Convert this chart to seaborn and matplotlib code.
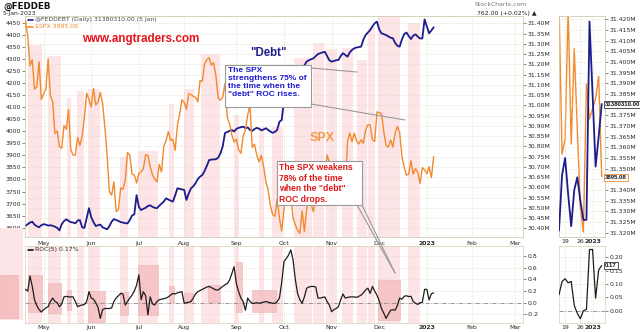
import numpy as np
import pandas as pd
import matplotlib
matplotlib.use("Agg")
import matplotlib.pyplot as plt
from matplotlib.patches import Rectangle
from matplotlib.lines import Line2D
from matplotlib.ticker import FuncFormatter
import seaborn as sns

sns.set_theme(style="white")
plt.rcParams["font.family"] = ["DejaVu Sans"]

# ---------------------------------------------------------------- data
HOLIDAYS = ["2022-05-30", "2022-06-20", "2022-07-04", "2022-09-05", "2022-11-24",
            "2022-12-26", "2023-01-02", "2023-01-16", "2023-02-20"]

# S&P 500 daily close, 20-Apr-2022 .. 6-Jan-2023
spx = [4459, 4394, 4272, 4296, 4175, 4184, 4288, 4132,
       4155, 4175, 4300, 4147, 4123, 3991, 4001, 3935, 3930, 4024, 4008, 4089,
       3924, 3901, 3901, 3974, 3941, 3979, 4058, 4158, 4132,
       4101, 4177, 4109, 4121, 4161, 4116, 4018, 3901, 3750, 3735, 3790, 3667,
       3675, 3765, 3760, 3796, 3912, 3900, 3822, 3819, 3785,
       3825, 3831, 3845, 3903, 3899, 3854, 3819, 3802, 3790, 3863, 3831, 3937,
       3960, 3999, 3962, 3967, 3921, 4024, 4072, 4130,
       4119, 4091, 4155, 4152, 4145, 4140, 4122, 4210, 4207, 4280, 4297, 4305,
       4274, 4284, 4228, 4138, 4129, 4141, 4199, 4058, 4031, 3986, 3955,
       3967, 3924, 3908, 3980, 4006, 4067, 4110, 3933, 3946, 3901, 3873, 3900,
       3856, 3790, 3758, 3693, 3655, 3647, 3719, 3640, 3586,
       3678, 3791, 3783, 3745, 3640, 3612, 3589, 3577, 3670, 3583, 3678, 3720,
       3695, 3666, 3753, 3797, 3859, 3831, 3807, 3901, 3872,
       3856, 3760, 3720, 3771, 3807, 3828, 3749, 3956, 3993, 3957, 3992, 3959,
       3947, 3965, 3950, 4004, 4027, 4026, 3964, 3958, 4080,
       4077, 4072, 3999, 3941, 3934, 3964, 3934, 3991, 4020, 3995, 3896, 3852,
       3818, 3822, 3878, 3822, 3845, 3829, 3783, 3849, 3840,
       3824, 3853, 3808, 3895.08]

# Federal debt, millions (shown as M on the axis)
debt = [30.411, 30.420, 30.428, 30.432, 30.418, 30.410, 30.405, 30.415, 30.420, 30.418,
        30.413, 30.415, 30.412, 30.408, 30.402, 30.390, 30.420, 30.435, 30.444, 30.436,
        30.430, 30.428, 30.424, 30.438, 30.440, 30.405, 30.402, 30.450, 30.498, 30.455,
        30.430, 30.411, 30.415, 30.418, 30.405, 30.400, 30.395, 30.410, 30.432, 30.445,
        30.440, 30.436, 30.430, 30.428, 30.425, 30.424, 30.440, 30.462, 30.468, 30.562,
        30.505, 30.489, 30.495, 30.500, 30.509, 30.512, 30.505, 30.500, 30.498, 30.510,
        30.520, 30.530, 30.546, 30.540, 30.535, 30.530, 30.560, 30.595, 30.592, 30.590,
        30.587, 30.538, 30.570, 30.595, 30.605, 30.620, 30.640, 30.652, 30.660, 30.680,
        30.705, 30.733, 30.735, 30.736, 30.737, 30.745, 30.766, 30.800, 30.865, 30.870,
        30.875, 30.880, 30.872, 30.885, 30.890, 30.893, 30.896, 30.888, 30.892, 30.880,
        30.875, 30.884, 30.890, 30.886, 30.878, 30.882, 30.888, 30.880, 30.872, 30.866,
        30.870, 30.880, 30.920, 30.928, 31.026, 31.060, 31.090, 31.110, 31.130, 31.140,
        31.150, 31.165, 31.180, 31.195, 31.213, 31.220, 31.225, 31.229, 31.240, 31.250,
        31.254, 31.258, 31.261, 31.240, 31.220, 31.213, 31.216, 31.220, 31.221, 31.240,
        31.254, 31.246, 31.237, 31.258, 31.270, 31.278, 31.282, 31.284, 31.286, 31.320,
        31.343, 31.355, 31.367, 31.385, 31.400, 31.408, 31.370, 31.351, 31.347, 31.343,
        31.336, 31.330, 31.327, 31.305, 31.290, 31.286, 31.321, 31.347, 31.355, 31.338,
        31.323, 31.340, 31.346, 31.335, 31.326, 31.326, 31.419, 31.385, 31.351, 31.365,
        31.38031]

# ROC(5) of the debt series, percent
roc = [0.23, 0.20, 0.46, 0.28, 0.05, -0.05, -0.12, -0.16, -0.12, -0.09,
       -0.07, 0.02, 0.08, 0.02, 0.00, -0.07, -0.02, 0.10, 0.11, 0.10,
       0.10, 0.10, 0.02, -0.07, -0.05, -0.04, -0.03, 0.02, 0.19, 0.08,
       0.06, 0.00, -0.08, -0.27, -0.12, -0.10, -0.10, -0.10, -0.09, 0.02,
       0.08, 0.12, 0.16, 0.15, -0.04, 0.02, 0.08, 0.13, 0.20, 0.30,
       0.48, 0.05, 0.19, 0.12, -0.21, 0.10, -0.02, -0.04, 0.02, 0.05,
       0.06, 0.07, 0.08, 0.10, 0.13, 0.16, 0.15, 0.17, 0.18, 0.19,
       -0.01, 0.00, 0.01, 0.02, 0.08, 0.15, 0.19, 0.21, 0.23, 0.25,
       0.27, 0.28, 0.26, 0.24, 0.22, 0.22, 0.25, 0.28, 0.31, 0.33,
       0.39, 0.50, 0.62, 0.33, 0.19, 0.08, 0.02, -0.13, 0.08, 0.02,
       -0.01, -0.01, 0.00, -0.01, 0.00, 0.01, 0.02, 0.01, 0.00, -0.01,
       -0.01, 0.02, 0.08, 0.35, 0.71, 0.76, 0.82, 0.91, 0.74, 0.40,
       0.16, 0.05, -0.01, 0.10, 0.25, 0.27, 0.28, 0.28, 0.27, 0.08,
       0.08, 0.09, 0.10, 0.02, -0.04, -0.155, -0.12, -0.10, -0.07, 0.05,
       0.15, 0.08, 0.09, 0.10, 0.10, 0.10, 0.09, 0.11, 0.13, 0.17,
       0.22, 0.25, 0.16, 0.28, 0.20, 0.13, 0.03, -0.10, -0.18, -0.27,
       -0.20, -0.13, -0.12, -0.13, -0.05, 0.08, 0.06, 0.11, 0.12, 0.105,
       0.11, 0.02, -0.01, -0.03, 0.00, 0.005, 0.23, 0.23, 0.047, 0.153,
       0.17]

# $SPX trace of the 15-session zoom panel (own hidden scale)
zoom_spx = [4240, 3940, 3970, 4230, 3960, 4150, 3990, 3830, 3785, 4080,
            4010, 4030, 4050, 4095, 3895.08]

zoom_labels = {"2022-12-19": "19", "2022-12-27": "26", "2023-01-03": "2023"}

# shaded periods: (first session, last session, top of shading in the price pane)
highlights = [(1.1, 7.3, 0.87), (9.9, 15.6, 0.82), (18.3, 20.0, 0.63), (22.7, 25.7, 0.66),
              (27.5, 32.8, 0.67), (41.6, 45.1, 0.36), (49.5, 58.3, 0.39), (63.2, 65.4, 0.60),
              (69.8, 74.2, 0.67), (77.2, 86.0, 0.83), (91.8, 94.0, 0.55), (102.8, 105.0, 0.5),
              (108.9, 113.4, 0.5), (118.2, 126.5, 0.81), (127.0, 131.8, 0.88),
              (132.7, 137.5, 0.85), (139.7, 144.6, 0.855), (146.4, 150.5, 0.8),
              (151.2, 154.3, 0.95), (155.6, 165.3, 1.0), (168.8, 174.1, 0.97)]
# darker boxes in the ROC pane: (x0, x1, low, high)
roc_boxes = [(1.1, 7.3, -0.16, 0.48), (9.9, 15.6, -0.18, 0.34), (18.3, 20.0, -0.13, 0.22),
             (27.5, 35.0, -0.33, 0.20), (41.6, 45.1, -0.21, 0.18), (49.5, 58.3, -0.21, 0.65),
             (63.2, 65.4, 0.01, 0.29), (69.8, 73.7, -0.01, 0.17), (80.3, 86.0, 0.01, 0.30),
             (92.7, 95.7, -0.16, 0.70), (100.1, 110.3, -0.16, 0.22), (155.6, 165.3, -0.30, 0.39)]

# ---------------------------------------------------------------- frame
sessions = pd.bdate_range("2022-04-20", "2023-03-10")
sessions = sessions[~sessions.isin(pd.to_datetime(HOLIDAYS))]
n = len(spx)
df = pd.DataFrame({"session": np.arange(n), "spx": spx, "debt": debt, "roc": roc})
tail = df.tail(len(zoom_spx)).reset_index(drop=True)
tail["pos"] = np.arange(len(tail))
tail["spx_zoom"] = zoom_spx
tail_dates = sessions[n - len(tail):n]

months = pd.Series(sessions.month)
starts = np.flatnonzero(months.ne(months.shift()).to_numpy())[1:]
mlabels = ["2023" if sessions[i].month == 1 else sessions[i].strftime("%b") for i in starts]

ORANGE = "#f2892c"
NAVY = "#1c1c8c"
BAND = "#fde4e7"
BAND_DARK = "#f5c0c2"
GRID = "#dedec6"
TXT = "#2a2a2a"
FS = 4.4

W, H = 640, 332
fig = plt.figure(figsize=(6.4, 3.32), dpi=100)
fig.patch.set_facecolor("white")


def frame(x0, y0, x1, y1):
    return [x0 / W, 1 - y1 / H, (x1 - x0) / W, (y1 - y0) / H]


def fx(x):
    return x / W


def fy(y):
    return 1 - y / H


ax_debt = fig.add_axes(frame(25, 16, 523, 237))
ax_spx = ax_debt.twinx()
ax_roc = fig.add_axes(frame(25, 246, 523, 323))
ax_z = fig.add_axes(frame(559, 16, 605, 237))
ax_zs = ax_z.twinx()
ax_zr = fig.add_axes(frame(559, 246, 605, 323))


def style(ax):
    ax.set_facecolor("none")
    for s in ax.spines.values():
        s.set_linestyle((0, (1, 1.5)))
        s.set_color("#cfcfb4")
        s.set_linewidth(0.6)
    ax.tick_params(labelsize=FS, colors=TXT, length=2, width=0.4, pad=1)
    ax.set_xlabel("")
    ax.set_ylabel("")


# ---------------------------------------------------------------- price pane
for x0, x1, top in highlights:
    ax_debt.axvspan(x0, x1, ymin=0, ymax=top, color=BAND, lw=0, zorder=0.5)
    ax_roc.axvspan(x0, x1, color=BAND, lw=0, zorder=0.5)
for x0, x1, lo, hi in roc_boxes:
    ax_roc.add_patch(Rectangle((x0, lo), x1 - x0, hi - lo, fc=BAND_DARK, ec="#eeaaaa",
                               lw=0.4, alpha=0.85, zorder=0.6))

sns.lineplot(data=df, x="session", y="debt", ax=ax_debt, color=NAVY, lw=1.3, zorder=3)
sns.lineplot(data=df, x="session", y="spx", ax=ax_spx, color=ORANGE, lw=1.0, zorder=3)

xlim = (-0.2, 219.4)
ax_debt.set_xlim(xlim)
ax_debt.set_ylim(30.3575, 31.4356)
ax_spx.set_ylim(3561.4, 4477.8)
ax_debt.yaxis.tick_right()
ax_spx.yaxis.tick_left()
ax_debt.set_yticks(np.round(np.arange(30.40, 31.401, 0.05), 2))
ax_debt.yaxis.set_major_formatter(FuncFormatter(lambda v, p: f"{v:.2f}M"))
ax_spx.set_yticks(np.arange(3600, 4451, 50))
ax_debt.set_xticks(starts, mlabels)
ax_debt.tick_params(axis="x", length=0, pad=1.2)
for a in (ax_debt, ax_spx):
    style(a)
ax_debt.grid(True, ls=(0, (1, 1.5)), color=GRID, lw=0.6)

# ---------------------------------------------------------------- ROC pane
sns.lineplot(data=df, x="session", y="roc", ax=ax_roc, color="#1e1e1e", lw=0.9, zorder=3)
ax_roc.set_xlim(xlim)
ax_roc.set_ylim(-0.35, 0.977)
ax_roc.yaxis.tick_right()
ax_roc.set_yticks([-0.2, 0.0, 0.2, 0.4, 0.6, 0.8])
ax_roc.yaxis.set_major_formatter(FuncFormatter(lambda v, p: f"{v:.1f}"))
ax_roc.set_xticks(starts, mlabels)
style(ax_roc)
ax_roc.tick_params(axis="x", length=0, pad=1.2)
ax_roc.grid(True, ls=(0, (1, 1.5)), color=GRID, lw=0.6)
ax_roc.axhline(0, color="#8a8a8a", lw=0.6, ls=(0, (5, 2, 1, 2)), zorder=2)

# ---------------------------------------------------------------- zoom panes
zt_pos = [int(np.flatnonzero(tail_dates == pd.Timestamp(d))[0]) for d in zoom_labels]
zt_lab = list(zoom_labels.values())

sns.lineplot(data=tail, x="pos", y="spx_zoom", ax=ax_zs, color=ORANGE, lw=1.0, zorder=3)
sns.lineplot(data=tail, x="pos", y="debt", ax=ax_z, color=NAVY, lw=1.3, zorder=4)
ax_z.set_zorder(ax_zs.get_zorder() + 1)
ax_z.set_xlim(0, 15.08)
ax_z.set_ylim(31.31798, 31.42155)
ax_zs.set_ylim(3775, 4215)
ax_zs.set_yticks([])
ax_z.yaxis.tick_right()
zticks = np.round(np.arange(31.320, 31.4201, 0.005), 3)
# the last-value tags sit over these two levels
hidden = {31.380, 31.345}
ax_z.set_yticks(zticks, ["" if v in hidden else f"{v:.3f}M" for v in zticks])
ax_z.set_xticks(zt_pos, zt_lab)
for a in (ax_z, ax_zs):
    style(a)
ax_z.tick_params(axis="x", length=0, pad=1.2)
ax_z.grid(True, ls=(0, (1, 1.5)), color=GRID, lw=0.6)

sns.lineplot(data=tail, x="pos", y="roc", ax=ax_zr, color="#1e1e1e", lw=0.9, zorder=3)
ax_zr.set_xlim(0, 15.08)
ax_zr.set_ylim(-0.0462, 0.2432)
ax_zr.yaxis.tick_right()
ax_zr.set_yticks([0.0, 0.05, 0.10, 0.15, 0.20])
ax_zr.yaxis.set_major_formatter(FuncFormatter(lambda v, p: f"{v:.2f}"))
ax_zr.set_xticks(zt_pos, zt_lab)
style(ax_zr)
ax_zr.tick_params(axis="x", length=0, pad=1.2)
ax_zr.grid(True, ls=(0, (1, 1.5)), color=GRID, lw=0.6)
ax_zr.axhline(0, color="#8a8a8a", lw=0.6, ls=(0, (5, 2, 1, 2)), zorder=2)

for a in (ax_debt, ax_roc, ax_z, ax_zr):
    for t in a.get_xticklabels():
        if t.get_text() == "2023":
            t.set_fontweight("bold")

# ---------------------------------------------------------------- decorations
fig.add_artist(Rectangle((fx(0), fy(320)), fx(23), 92 / H, transform=fig.transFigure,
                         fc=BAND, lw=0, zorder=0.2))
fig.add_artist(Rectangle((fx(0), fy(318)), fx(18), 43 / H, transform=fig.transFigure,
                         fc=BAND_DARK, ec="#eeaaaa", lw=0.4, zorder=0.3))

fig.text(fx(3), fy(2), "@FEDDEB", fontsize=6.3, fontweight="bold", color="#111", va="top")
fig.text(fx(3), fy(10.5), "5-Jan-2023", fontsize=FS, color=TXT, va="top")


def legend_row(y, color, label, tcolor):
    fig.add_artist(Line2D([fx(28), fx(33)], [fy(y), fy(y)], color=color, lw=1.2,
                          transform=fig.transFigure, zorder=6))
    fig.text(fx(35), fy(y), label, fontsize=FS, color=tcolor, va="center", zorder=6)


legend_row(20, NAVY, f"@FEDDEBT (Daily) {debt[-1] * 1e6:.2f} (5 Jan)", "#444")
legend_row(26.5, ORANGE, f"\\$SPX {spx[-1]:.2f}", ORANGE)
roc_label_y = 249.5
fig.add_artist(Line2D([fx(28), fx(33)], [fy(roc_label_y)] * 2, color="#111", lw=1.2,
                      transform=fig.transFigure, zorder=6))
fig.text(fx(35), fy(roc_label_y), f"ROC(5) {roc[-1]:.2f}%", fontsize=FS, color=TXT,
         va="center", zorder=6)

fig.text(fx(475), fy(5), "StockCharts.com", fontsize=FS, color="#777", va="center")
fig.text(fx(477), fy(13.5), "762.00 (+0.02%) \u25b2", fontsize=FS, color="#222", va="center")

fig.text(fx(141), fy(39), "www.angtraders.com", fontsize=8.4, fontweight="bold",
         color="#e6141c", ha="center", va="center", family="Liberation Sans", zorder=6)
fig.text(fx(268), fy(52.5), '"Debt"', fontsize=8.3, fontweight="bold", color=NAVY,
         ha="center", va="center", family="Liberation Sans", zorder=6)
fig.text(fx(322), fy(138), "SPX", fontsize=9, fontweight="bold", color="#f39a4a",
         ha="center", va="center", family="Liberation Sans", zorder=6)

# callout 1
fig.add_artist(Line2D([fx(311), fx(357)], [fy(68), fy(72)], color="#999", lw=0.8,
                      transform=fig.transFigure, zorder=6))
fig.add_artist(Line2D([fx(311), fx(405)], [fy(104), fy(120)], color="#999", lw=0.8,
                      transform=fig.transFigure, zorder=6))
fig.add_artist(Rectangle((fx(225), fy(107)), 86 / W, 42 / H, transform=fig.transFigure,
                         fc="white", ec="#9a9a9a", lw=0.8, zorder=7))
fig.text(fx(227.5), fy(67), 'The SPX\nstrengthens 75% of\nthe time when the\n"debt" ROC rises.',
         fontsize=6.0, fontweight="bold", color="#1a1ad0", va="top", linespacing=1.22,
         family="Liberation Sans", zorder=8)

# callout 2
fig.add_artist(Line2D([fx(357), fx(395)], [fy(205), fy(273)], color="#999", lw=0.8,
                      transform=fig.transFigure, zorder=6))
fig.add_artist(Line2D([fx(362), fx(395)], [fy(205), fy(273)], color="#999", lw=0.8,
                      transform=fig.transFigure, zorder=6))
fig.add_artist(Rectangle((fx(277), fy(205)), 85 / W, 44 / H, transform=fig.transFigure,
                         fc="white", ec="#9a9a9a", lw=0.8, zorder=7))
fig.text(fx(279), fy(163), 'The SPX weakens\n78% of the time\nwhen the "debt"\nROC drops.',
         fontsize=6.2, fontweight="bold", color="#e01818", va="top", linespacing=1.22,
         family="Liberation Sans", zorder=8)

# last-value tags on the zoom pane axes
tag = dict(fontsize=4.3, fontweight="bold", va="center", ha="left", zorder=9,
           family="Liberation Sans")
fig.text(fx(605), fy(104.7), f"{debt[-1] * 1e6:.2f}", color="#111",
         bbox=dict(boxstyle="square,pad=0.15", fc="white", ec="#333", lw=0.6), **tag)
fig.text(fx(605), fy(177.5), f"{spx[-1]:.2f}", color="#111",
         bbox=dict(boxstyle="square,pad=0.15", fc="white", ec=ORANGE, lw=0.6), **tag)
fig.text(fx(605), fy(265.5), f"{roc[-1]:.2f}", color="#111",
         bbox=dict(boxstyle="square,pad=0.15", fc="white", ec="#333", lw=0.6), **tag)

fig.savefig("out.png", dpi=100, facecolor="white")
